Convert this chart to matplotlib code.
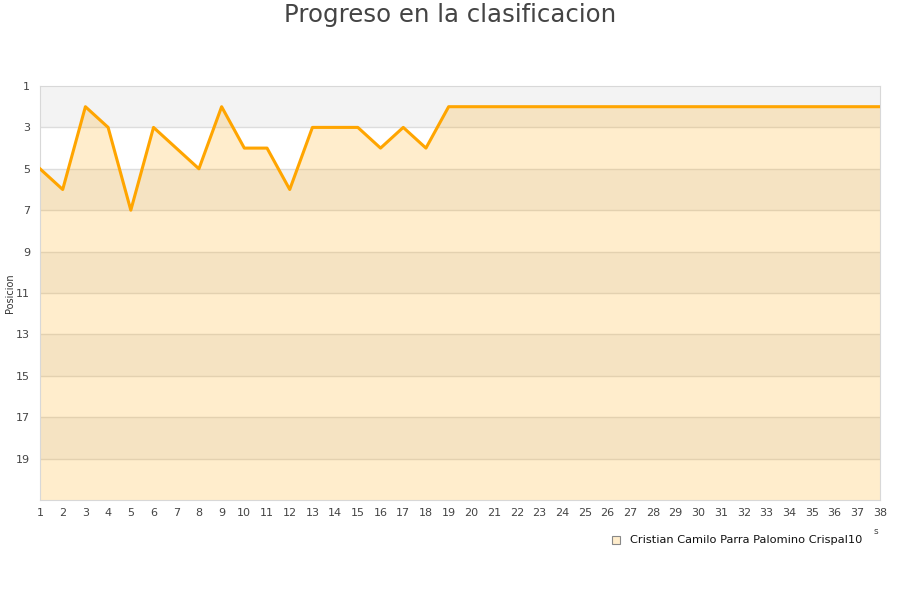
import numpy as np
import matplotlib.pyplot as plt
from matplotlib.patches import Rectangle

jornadas = list(range(1, 39))
posicion = [5, 6, 2, 3, 7, 3, 4, 5, 2, 4,
            4, 6, 3, 3, 3, 4, 3, 4, 2, 2,
            2, 2, 2, 2, 2, 2, 2, 2, 2, 2,
            2, 2, 2, 2, 2, 2, 2, 2]
y_ticks = list(range(1, 20, 2))
jugador = 'Cristian Camilo Parra Palomino Crispal10'

fig = plt.figure(figsize=(9, 6), dpi=100)
ax = fig.add_axes([40/900, 1-500/600, 840/900, 414/600])

# alternating bands
for i, y0 in enumerate(range(1, 21, 2)):
    col = '#f3f3f3' if i % 2 == 0 else '#ffffff'
    ax.axhspan(y0, y0+2, color=col, zorder=0, lw=0)
for y in y_ticks[1:]:
    ax.axhline(y, color='#dddddd', lw=1, zorder=1)

ax.fill_between(jornadas, posicion, 21, color='#ffa500', alpha=0.2, lw=0, zorder=2)
ax.plot(jornadas, posicion, color='#ffa500', lw=2.2, zorder=3)

ax.set_xlim(1, 38)
ax.set_ylim(21, 1)
ax.set_yticks(y_ticks)
ax.set_xticks(jornadas)
ax.tick_params(length=0, labelsize=8, colors='#444444', pad=6)
ax.tick_params(axis='y', pad=7)
for s in ax.spines.values():
    s.set_color('#d8d8d8')
fig.text(10/900, 1-293/600, 'Posicion', rotation=90, ha='center', va='center',
         fontsize=7, color='#333333')

fig.text(0.5, 1-15/600, 'Progreso en la clasificacion', ha='center', va='center',
         fontsize=17.6, color='#444444')

# legend
fig.patches.append(Rectangle((612/900, 1-544/600), 8/900, 8/600, transform=fig.transFigure,
                             facecolor='#ffedcc', edgecolor='#888888', lw=0.8))
fig.text(630/900, 1-540/600, jugador, ha='left', va='center', fontsize=8.2, color='#111111')
fig.text(876/900, 1-531/600, 's', ha='center', va='center', fontsize=6.5, color='#444444')

fig.savefig('out.png', dpi=100)
